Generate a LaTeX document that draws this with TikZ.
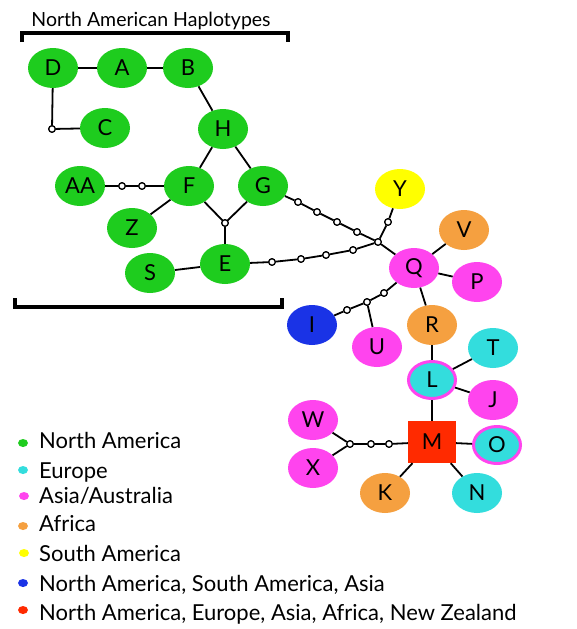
\documentclass[tikz,border=0pt]{standalone}
\usepackage{fontspec}
\setmainfont{Lato}
\usetikzlibrary{shapes.geometric}
\definecolor{naG}{RGB}{30,204,30}
\definecolor{euC}{RGB}{51,221,221}
\definecolor{asM}{RGB}{255,68,238}
\definecolor{afO}{RGB}{245,160,64}
\definecolor{saY}{RGB}{255,255,0}
\definecolor{mxB}{RGB}{26,51,230}
\definecolor{allR}{RGB}{255,42,0}
\tikzset{
  hap/.style={ellipse, minimum width=50pt, minimum height=40pt, inner sep=0pt, font=\fontsize{22}{22}\selectfont},
  hapG/.style={hap, fill=naG},
  hapC/.style={hap, fill=euC},
  hapM/.style={hap, fill=asM},
  hapO/.style={hap, fill=afO},
  hapY/.style={hap, fill=saY},
  hapB/.style={hap, fill=mxB},
  hapCM/.style={hap, fill=euC, draw=asM, line width=3pt, minimum width=47pt, minimum height=37pt},
  hapSq/.style={rectangle, fill=allR, minimum width=48pt, minimum height=42pt, inner sep=0pt, font=\fontsize{22}{22}\selectfont},
  mut/.style={circle, draw=black, fill=white, line width=1.2pt, inner sep=0pt, minimum size=6.5pt},
  link/.style={line width=1.8pt},
  bracket/.style={line width=3.5pt},
  legdot/.style={ellipse, minimum width=10pt, minimum height=8pt, inner sep=0pt},
  legtxt/.style={anchor=base west, inner sep=0pt, font=\fontsize{22}{22}\selectfont}
}
\begin{document}
\begin{tikzpicture}[x=1pt,y=-1pt]
\useasboundingbox (0,0) rectangle (576,629);
\fill[white] (0,0) rectangle (576,629);

% brackets and heading
\node[anchor=base, inner sep=0pt, font=\fontsize{19.5}{19.5}\selectfont] (title) at (151,27) {North American Haplotypes};
\draw[bracket] (22,42) -- (22,33) -- (288,33) -- (288,42);
\draw[bracket] (15,298) -- (15,307) -- (282,307) -- (282,298);

% junctions and mutation steps
\node[mut] (mDC) at (52,129) {};
\node[mut] (mAA1) at (122,186) {};
\node[mut] (mAA2) at (142,186) {};
\node[mut] (jFGE) at (225,223) {};
\node[mut] (g1) at (298,202) {};
\node[mut] (g2) at (317,212) {};
\node[mut] (g3) at (337,222) {};
\node[mut] (g4) at (357,232) {};
\node[mut] (e1) at (272,262) {};
\node[mut] (e2) at (301,259) {};
\node[mut] (e3) at (326,255) {};
\node[mut] (e4) at (353,250) {};
\node[mut] (jQ) at (378,242) {};
\node[mut] (y1) at (388,222) {};
\node[mut] (i1) at (347,310) {};
\node[mut] (jU) at (367,302) {};
\node[mut] (i2) at (384,293) {};
\node[mut] (jWX) at (350,444) {};
\node[mut] (w1) at (371,444) {};
\node[mut] (w2) at (389,444) {};

% haplotype nodes
\node[hapG] (D) at (53,68) {D};
\node[hapG] (A) at (122,68) {A};
\node[hapG] (B) at (188,68) {B};
\node[hapG] (C) at (105,128) {C};
\node[hapG] (H) at (223,129) {H};
\node[hapG] (AA) at (80,186) {AA};
\node[hapG] (F) at (189,186) {F};
\node[hapG] (G) at (263,186) {G};
\node[hapG] (Z) at (132,228) {Z};
\node[hapG] (S) at (150,273) {S};
\node[hapG] (E) at (225,264) {E};
\node[hapY] (Y) at (400,189) {Y};
\node[hapO] (V) at (464,230) {V};
\node[hapM] (Q) at (414,268) {Q};
\node[hapM] (P) at (477,282) {P};
\node[hapO] (R) at (432,325) {R};
\node[hapB] (I) at (312,325) {I};
\node[hapM] (U) at (377,347) {U};
\node[hapC] (T) at (493,348) {T};
\node[hapCM] (L) at (432,380) {L};
\node[hapM] (J) at (493,400) {J};
\node[hapSq] (M) at (432,442) {M};
\node[hapCM] (O) at (497,445) {O};
\node[hapC] (N) at (477,493) {N};
\node[hapO] (K) at (385,493) {K};
\node[hapM] (W) at (313,420) {W};
\node[hapM] (X) at (313,468) {X};

% connectors
\draw[link] (D) -- (A);
\draw[link] (A) -- (B);
\draw[link] (D) -- (mDC) -- (C);
\draw[link] (B) -- (H);
\draw[link] (H) -- (F);
\draw[link] (H) -- (G);
\draw[link] (AA) -- (mAA1) -- (mAA2) -- (F);
\draw[link] (F) -- (Z);
\draw[link] (F) -- (jFGE) -- (G);
\draw[link] (jFGE) -- (E);
\draw[link] (S) -- (E);
\draw[link] (E) -- (e1) -- (e2) -- (e3) -- (e4) -- (jQ);
\draw[link] (G) -- (g1) -- (g2) -- (g3) -- (g4) -- (jQ);
\draw[link] (Y) -- (y1) -- (jQ);
\draw[link] (jQ) -- (Q);
\draw[link] (Q) -- (V);
\draw[link] (Q) -- (P);
\draw[link] (Q) -- (R);
\draw[link] (Q) -- (i2) -- (jU) -- (i1) -- (I);
\draw[link] (jU) -- (U);
\draw[link] (R) -- (L);
\draw[link] (L) -- (T);
\draw[link] (L) -- (J);
\draw[link] (L) -- (M);
\draw[link] (M) -- (O);
\draw[link] (M) -- (N);
\draw[link] (M) -- (K);
\draw[link] (M) -- (w2) -- (w1) -- (jWX);
\draw[link] (jWX) -- (W);
\draw[link] (jWX) -- (X);

% step markers drawn again above the lines
\foreach \m in {mDC,mAA1,mAA2,jFGE,g1,g2,g3,g4,e1,e2,e3,e4,jQ,y1,i1,jU,i2,jWX,w1,w2}
  \node[mut] at (\m) {};

% legend
\node[legdot, fill=naG] (d1) at (23,443) {};
\node[legdot, fill=euC] (d2) at (23,470) {};
\node[legdot, fill=asM] (d3) at (24,496) {};
\node[legdot, fill=afO] (d4) at (23,526) {};
\node[legdot, fill=saY] (d5) at (24,553) {};
\node[legdot, fill=mxB] (d6) at (23,583) {};
\node[legdot, fill=allR] (d7) at (23,610) {};
\node[legtxt] (t1) at (39,448) {North America};
\node[legtxt] (t2) at (39,478) {Europe};
\node[legtxt] (t3) at (39,503) {Asia/Australia};
\node[legtxt] (t4) at (39,531) {Africa};
\node[legtxt] (t5) at (39,561) {South America};
\node[legtxt] (t6) at (39,591) {North America, South America, Asia};
\node[legtxt] (t7) at (39,620) {North America, Europe, Asia, Africa, New Zealand};
\end{tikzpicture}
\end{document}
